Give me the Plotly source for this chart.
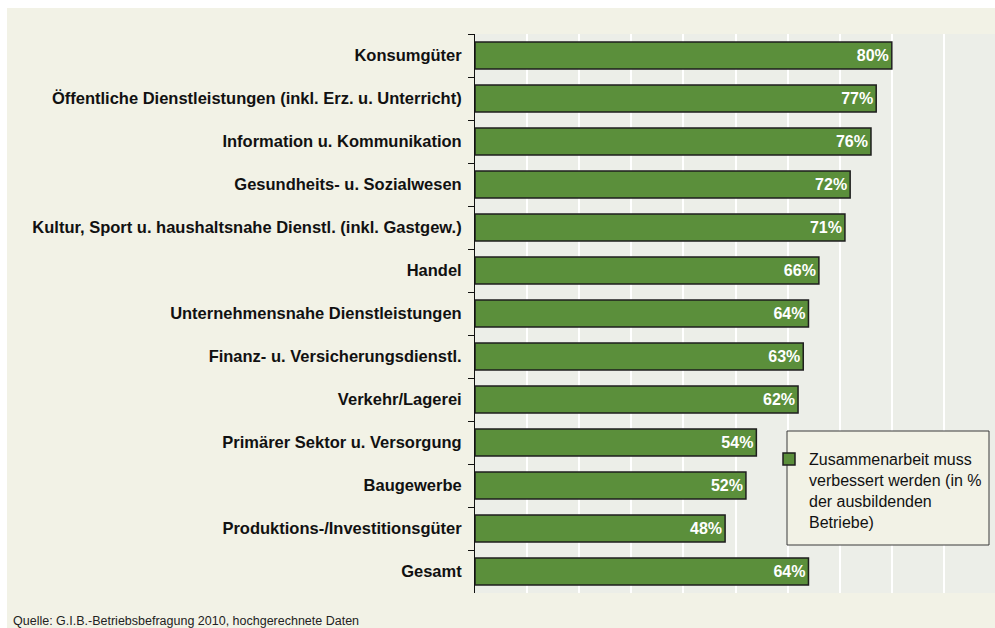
import plotly.graph_objects as go

# Branchen (top to bottom) and share of training companies (%)
categories = [
    "Konsumgüter",
    "Öffentliche Dienstleistungen (inkl. Erz. u. Unterricht)",
    "Information u. Kommunikation",
    "Gesundheits- u. Sozialwesen",
    "Kultur, Sport u. haushaltsnahe Dienstl. (inkl. Gastgew.)",
    "Handel",
    "Unternehmensnahe Dienstleistungen",
    "Finanz- u. Versicherungsdienstl.",
    "Verkehr/Lagerei",
    "Primärer Sektor u. Versorgung",
    "Baugewerbe",
    "Produktions-/Investitionsgüter",
    "Gesamt",
]
values = [80, 77, 76, 72, 71, 66, 64, 63, 62, 54, 52, 48, 64]
series_name = "Zusammenarbeit muss<br>verbessert werden (in %<br>der ausbildenden<br>Betriebe)"
source_note = "Quelle: G.I.B.-Betriebsbefragung 2010, hochgerechnete Daten"

W, H = 995, 628
ML, MR, MT, MB = 475, 0, 34, 35
PW, PH = W - ML - MR, H - MT - MB


def px_x(px):
    return (px - ML) / PW


def px_y(py):
    return (H - MB - py) / PH


CREAM = "#F2F2E6"
GREEN = "#5B8F3B"
FONT = "Liberation Sans, Arial, sans-serif"

fig = go.Figure()
fig.add_trace(go.Bar(
    x=values,
    y=categories,
    orientation="h",
    name=series_name,
    marker=dict(color=GREEN, line=dict(color="#1E1E1E", width=1.5)),
    text=[f"{v}%" for v in values],
    textposition="inside",
    insidetextanchor="end",
    textfont=dict(family=FONT, size=16, color="white", weight="bold"),
))

shapes = [
    # white strips along the top and left edges
    dict(type="rect", xref="paper", yref="paper", x0=px_x(0), x1=px_x(W), y0=px_y(8), y1=px_y(0),
         fillcolor="white", line=dict(width=0), layer="below"),
    dict(type="rect", xref="paper", yref="paper", x0=px_x(0), x1=px_x(7), y0=px_y(H), y1=px_y(0),
         fillcolor="white", line=dict(width=0), layer="below"),
    # legend frame
    dict(type="rect", xref="paper", yref="paper", x0=px_x(787), x1=px_x(989), y0=px_y(545), y1=px_y(431),
         fillcolor=CREAM, line=dict(color="#3A3A3A", width=1), layer="above"),
]

fig.update_layout(
    width=W, height=H,
    margin=dict(l=ML, r=MR, t=MT, b=MB, pad=0),
    paper_bgcolor=CREAM,
    plot_bgcolor="#ECEEE8",
    bargap=0.37,
    shapes=shapes,
    showlegend=True,
    legend=dict(
        x=px_x(769), y=px_y(442), xanchor="left", yanchor="top",
        valign="top", tracegroupgap=0,
        bgcolor="rgba(0,0,0,0)", borderwidth=0,
        font=dict(family=FONT, size=16, color="#111111"),
    ),
    annotations=[dict(
        text=source_note, xref="paper", yref="paper",
        x=px_x(11), y=px_y(621), xanchor="left", yanchor="middle",
        showarrow=False, font=dict(family=FONT, size=12.5, color="#222222"),
    )],
    xaxis=dict(
        range=[0, 99.8], dtick=10, showticklabels=False, ticks="",
        showgrid=True, gridcolor="white", gridwidth=2,
        zeroline=False, showline=False,
    ),
    yaxis=dict(
        categoryorder="array", categoryarray=categories, autorange="reversed",
        showline=True, linecolor="#111111", linewidth=1,
        ticks="outside", tickson="boundaries", ticklen=6, tickwidth=1, tickcolor="#111111",
        ticklabelstandoff=9,
        tickfont=dict(family=FONT, size=16.5, color="#111111", weight="bold"),
        showgrid=False, zeroline=False,
    ),
)

fig.write_html("out.html")
